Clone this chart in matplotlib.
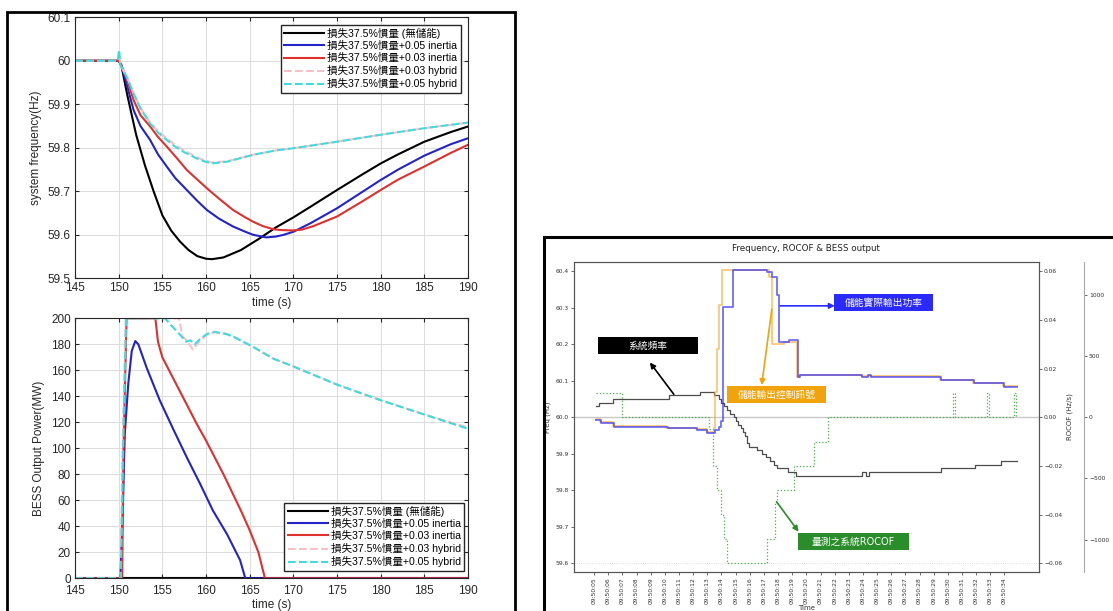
import matplotlib
matplotlib.use('Agg')
import matplotlib.pyplot as plt
from matplotlib.patches import Rectangle
from matplotlib.font_manager import FontProperties

plt.rcParams['font.family'] = ['DejaVu Sans', 'Noto Sans CJK TC']
LEFT_FONT = ['Liberation Sans', 'Noto Sans CJK TC']

# ---- left: simulation results ----
labels = ['損失37.5%慣量 (無儲能)',
          '損失37.5%慣量+0.05 inertia',
          '損失37.5%慣量+0.03 inertia',
          '損失37.5%慣量+0.03 hybrid',
          '損失37.5%慣量+0.05 hybrid']

# system frequency (Hz)
t_black = [145, 150, 150.3, 151, 152, 153, 154, 155, 156, 157, 158, 159, 160, 160.7,
           162, 164, 166, 168, 170, 172, 175, 178, 180, 182, 185, 188, 190]
f_black = [60.0, 60.0, 59.99, 59.92, 59.83, 59.76, 59.70, 59.645, 59.61, 59.585, 59.565,
           59.551, 59.545, 59.544, 59.548, 59.565, 59.59, 59.617, 59.64, 59.665, 59.703,
           59.74, 59.764, 59.785, 59.814, 59.836, 59.849]
t_blue = [145, 150, 150.3, 151, 151.7, 152.5, 153.6, 154.5, 155.5, 156.5, 157.8, 159,
          160.1, 161.5, 163.1, 164.5, 165.4, 166.9, 168, 168.9, 170, 172, 175, 178, 180,
          182, 185, 188, 190]
f_blue = [60.0, 60.0, 59.99, 59.94, 59.887, 59.85, 59.818, 59.785, 59.757, 59.73, 59.703,
          59.678, 59.657, 59.637, 59.619, 59.607, 59.60, 59.594, 59.596, 59.60, 59.607,
          59.627, 59.661, 59.70, 59.726, 59.75, 59.782, 59.808, 59.822]
t_red = [145, 150, 150.3, 151, 151.7, 152.5, 153.6, 154.5, 155.5, 156.5, 157.8, 159, 160.1,
         161.5, 163.1, 164.5, 165.4, 166.5, 167.7, 168.5, 170, 171, 172.3, 175, 178, 180,
         182, 185, 188, 190]
f_red = [60.0, 60.0, 59.99, 59.955, 59.91, 59.875, 59.849, 59.825, 59.803, 59.78, 59.749,
         59.727, 59.707, 59.683, 59.657, 59.64, 59.63, 59.62, 59.613, 59.611, 59.61, 59.612,
         59.62, 59.642, 59.678, 59.703, 59.727, 59.757, 59.788, 59.807]
t_hyb = [145, 149.9, 150.05, 150.2, 151, 151.7, 152.5, 153.6, 154.5, 155.5, 156.5, 157.4,
         158.5, 159.3, 160.65, 162.4, 165.4, 168, 170, 175, 180, 185, 190]
f_cyan = [60.0, 60.0, 60.025, 59.99, 59.96, 59.925, 59.89, 59.856, 59.835, 59.818, 59.802,
          59.791, 59.78, 59.772, 59.764, 59.768, 59.784, 59.794, 59.799, 59.814, 59.83,
          59.845, 59.858]
f_pink = [60.0, 60.0, 60.02, 59.99, 59.96, 59.926, 59.892, 59.858, 59.838, 59.822, 59.806,
          59.795, 59.783, 59.775, 59.766, 59.769, 59.784, 59.794, 59.799, 59.814, 59.83,
          59.845, 59.858]

# BESS output power (MW)
tp_black = [145, 190]
p_black = [0, 0]
tp_blue = [145, 150.2, 150.5, 150.7, 151.1, 151.5, 151.9, 152.25, 153.2, 154.7, 156.3,
           157.8, 159.3, 160.8, 162.4, 163.9, 164.5, 190]
p_blue = [0, 0, 60, 111, 150, 175, 182.5, 180, 162, 137, 114, 93, 73, 52, 34, 14, 0, 0]
tp_red = [145, 150.4, 150.55, 150.9, 154.2, 154.5, 155, 156, 157, 158, 159, 160, 161, 162,
          163, 164, 165, 166, 166.75, 190]
p_red = [0, 0, 100, 200, 200, 182, 170, 157, 144, 131, 118, 106, 93, 80, 66, 52, 37, 20, 0, 0]
tp_cyan = [145, 150.25, 150.5, 150.85, 155.3, 155.7, 156.1, 156.8, 157.2, 157.7, 158.2,
           158.7, 159.3, 160.1, 161.0, 162.3, 163.1, 165.4, 167.7, 170, 175, 180, 185, 190]
p_cyan = [0, 0, 100, 200, 200, 197, 194, 189, 186, 182, 183, 180, 184, 188, 189.5, 188, 186,
          178, 169, 163, 149, 137, 126, 115]
tp_pink = [145, 150.2, 150.45, 150.8, 156.9, 157.3, 157.8, 158.5, 159.2, 160.0, 161.0, 162.3,
           163.1, 165.4, 167.7, 170, 175, 180, 185, 190]
p_pink = [0, 0, 100, 200, 200, 186, 183, 176, 182, 187, 189.5, 188, 186, 178, 169, 163, 149,
          137, 126, 116]

# ---- right: field measurement (seconds after 09:50:00) ----
time_labels = ['09:50:%02d' % s for s in range(5, 35)]
t_freq = [5.1, 5.35, 6.3, 10.3, 12.5, 13.5, 13.8, 14.0, 14.2, 14.4, 14.6, 14.85, 15.05, 15.2,
          15.35, 15.5, 15.65, 15.8, 15.95, 16.5, 16.85, 17.15, 17.4, 17.7, 17.95, 18.7, 19.3,
          23.9, 24.2, 24.4, 29.5, 31.9, 33.75, 34.9]
freq = [60.03, 60.04, 60.05, 60.06, 60.07, 60.06, 60.05, 60.04, 60.03, 60.02, 60.01, 60.00,
        59.99, 59.98, 59.97, 59.96, 59.95, 59.93, 59.92, 59.91, 59.90, 59.89, 59.88, 59.87,
        59.86, 59.85, 59.84, 59.85, 59.84, 59.85, 59.86, 59.87, 59.88, 59.88]
t_out = [5.1, 5.45, 6.4, 10.2, 12.3, 13.0, 13.55, 13.8, 14.0, 14.1, 14.78, 17.25, 17.6, 17.95,
         18.07, 18.8, 19.4, 19.55, 23.95, 24.35, 24.55, 29.55, 31.85, 33.98, 34.92]
p_out = [-22, -49, -77, -90, -104, -131, -104, -77, -30, 905, 1203, 1190, 1148, 1000, 616, 632,
         330, 346, 327, 346, 332, 305, 278, 250, 250]
t_cmd = [5.1, 5.4, 6.35, 10.1, 12.2, 13.0, 13.45, 13.55, 13.7, 13.85, 14.05, 17.35, 17.6,
         18.4, 19.37, 19.5, 23.85, 24.45, 29.45, 31.75, 33.88, 34.92]
p_cmd = [-15, -42, -70, -84, -98, -120, -90, 207, 561, 916, 1203, 1148, 602, 616, 330, 344,
         335, 340, 308, 282, 255, 255]
t_rocof = [5.1, 6.95, 13.15, 13.4, 13.7, 13.95, 14.15, 14.4, 17.25, 17.75, 17.9, 19.1, 20.55,
           21.55, 30.33, 30.5, 32.75, 32.92, 34.68, 34.85, 34.92]
rocof = [0.01, 0.0, -0.005, -0.02, -0.03, -0.04, -0.05, -0.06, -0.05, -0.035, -0.03, -0.02,
         -0.01, 0.0, 0.01, 0.0, 0.01, 0.0, 0.01, 0.0, 0.0]

fig = plt.figure(figsize=(11.13, 6.11), dpi=100)


def matlab_axes(ax):
    ax.tick_params(direction='in', top=True, right=True, length=3, labelsize=8.5,
                   colors='#262626', pad=3)
    for lab in ax.get_xticklabels() + ax.get_yticklabels():
        lab.set_family(LEFT_FONT)
    for s in ax.spines.values():
        s.set_color('#262626')
        s.set_linewidth(0.8)
    ax.grid(True, color='#dcdcdc', lw=0.7)
    ax.set_axisbelow(True)


leg_font = FontProperties(family=LEFT_FONT, size=7.6)
leg_kw = dict(prop=leg_font, handlelength=3.8, fancybox=False, edgecolor='#262626',
              framealpha=1, borderpad=0.3, labelspacing=0.2, handletextpad=0.3)

ax1 = fig.add_axes([0.0674, 0.5445, 0.3531, 0.4272])
ax1.plot(t_black, f_black, color='black', lw=1.5, label=labels[0])
ax1.plot(t_blue, f_blue, color='#2323c8', lw=1.5, label=labels[1])
ax1.plot(t_red, f_red, color='#e0302e', lw=1.5, label=labels[2])
ax1.plot(t_hyb, f_pink, color='#f7bfc8', lw=1.5, ls='--', label=labels[3])
ax1.plot(t_hyb, f_cyan, color='#3fdcdc', lw=1.5, ls='--', label=labels[4])
ax1.set_xlim(145, 190)
ax1.set_ylim(59.5, 60.1)
ax1.set_xticks(range(145, 191, 5))
ax1.set_yticks([59.5, 59.6, 59.7, 59.8, 59.9, 60.0, 60.1])
ax1.set_yticklabels(['59.5', '59.6', '59.7', '59.8', '59.9', '60', '60.1'])
matlab_axes(ax1)
ax1.set_xlabel('time (s)', family=LEFT_FONT, fontsize=8.5, color='#262626', labelpad=2)
ax1.set_ylabel('system frequency(Hz)', family=LEFT_FONT, fontsize=8.5, color='#262626')
ax1.legend(loc='upper right', borderaxespad=0.7, **leg_kw)

ax2 = fig.add_axes([0.0674, 0.0535, 0.3531, 0.4255])
ax2.plot(tp_black, p_black, color='black', lw=1.5, label=labels[0])
ax2.plot(tp_blue, p_blue, color='#2323c8', lw=1.5, label=labels[1])
ax2.plot(tp_red, p_red, color='#e0302e', lw=1.5, label=labels[2])
ax2.plot(tp_pink, p_pink, color='#f7bfc8', lw=1.5, ls='--', label=labels[3])
ax2.plot(tp_cyan, p_cyan, color='#3fdcdc', lw=1.5, ls='--', label=labels[4])
ax2.set_xlim(145, 190)
ax2.set_ylim(0, 200)
ax2.set_xticks(range(145, 191, 5))
ax2.set_yticks(range(0, 201, 20))
matlab_axes(ax2)
ax2.tick_params(axis='x', pad=5)
ax2.set_xlabel('time (s)', family=LEFT_FONT, fontsize=8.5, color='#262626', labelpad=1)
ax2.set_ylabel('BESS Output Power(MW)', family=LEFT_FONT, fontsize=8.5, color='#262626')
ax2.legend(loc='lower right', bbox_to_anchor=(0.99, 0.03), borderaxespad=0, **leg_kw)

# ---- right panel ----
ax3 = fig.add_axes([0.5154, 0.0638, 0.4182, 0.5074])
ax3.axhline(60.0, color='#c8c8c8', lw=1.0)
ax3.axhline(59.6, color='#d5d5d5', lw=0.6, ls=':')
ax3.plot(t_freq, freq, drawstyle='steps-post', color='#4d4d4d', lw=0.9)
ax3.set_xlim(3.55, 36.45)
ax3.set_ylim(59.5766, 60.425)
ax3.set_yticks([59.6, 59.7, 59.8, 59.9, 60.0, 60.1, 60.2, 60.3, 60.4])
ax3.set_yticklabels(['%.1f' % v for v in [59.6, 59.7, 59.8, 59.9, 60.0, 60.1, 60.2, 60.3, 60.4]])
ax3.set_xticks(range(5, 35))
ax3.set_xticklabels(time_labels, rotation=90)
ax3.tick_params(labelsize=4.3, length=2, width=0.5, pad=1.5, colors='#333333')
ax3.set_xlabel('Time', fontsize=5, labelpad=1, color='#333333')
ax3.set_ylabel('Freq (Hz)', fontsize=5, labelpad=3, color='#333333')
ax3.set_title('Frequency, ROCOF & BESS output', fontsize=6.3, pad=8, color='#222222')
for s in ax3.spines.values():
    s.set_color('#555555')
    s.set_linewidth(0.8)

ax4 = ax3.twinx()
ax4.plot(t_rocof, rocof, drawstyle='steps-post', color='#4caf4c', lw=0.9, ls=':')
ax4.set_ylim(-0.0635, 0.0637)
ax4.set_yticks([-0.06, -0.04, -0.02, 0.0, 0.02, 0.04, 0.06])
ax4.set_yticklabels(['\u22120.06', '\u22120.04', '\u22120.02', '0.00', '0.02', '0.04', '0.06'])
ax4.tick_params(labelsize=4.3, length=2, width=0.5, pad=1.5, colors='#333333')
ax4.set_ylabel('ROCOF (Hz/s)', fontsize=5, labelpad=3, color='#333333')
for s in ax4.spines.values():
    s.set_color('#555555')
    s.set_linewidth(0.8)

ax5 = ax3.twinx()
ax5.spines['right'].set_position(('outward', 32.4))
for side in ['top', 'bottom', 'left']:
    ax5.spines[side].set_visible(False)
ax5.spines['right'].set_color('#aaaaaa')
ax5.plot(t_cmd, p_cmd, drawstyle='steps-post', color='#ffa31a', lw=1.3, alpha=0.6)
ax5.plot(t_out, p_out, drawstyle='steps-post', color='#3030ff', lw=1.3, alpha=0.7)
ax5.set_ylim(-1266, 1271)
ax5.set_yticks([-1000, -500, 0, 500, 1000])
ax5.set_yticklabels(['\u22121000', '\u2212500', '0', '500', '1000'])
ax5.tick_params(labelsize=4.3, length=2, width=0.5, pad=1.5, colors='#333333')
ax5.set_ylabel('BESS Power (kW)', fontsize=5, labelpad=3, color='#333333')

# annotation boxes (axes fraction) and arrows (data coordinates)
boxes = [('系統頻率', 'black', 0.0524, 0.2673, 0.7032, 0.7581),
         ('儲能實際輸出功率', '#2a2aff', 0.5600, 0.7720, 0.8419, 0.8968),
         ('儲能輸出控制訊號', '#f0a30a', 0.3298, 0.5428, 0.5442, 0.6000),
         ('量測之系統ROCOF', '#2a8c2a', 0.4815, 0.7211, 0.0710, 0.1268)]
for txt, col, x0, x1, y0, y1 in boxes:
    ax5.add_patch(Rectangle((x0, y0), x1 - x0, y1 - y0, transform=ax3.transAxes,
                            facecolor=col, edgecolor='none', zorder=5, clip_on=False))
    ax5.text((x0 + x1) / 2, (y0 + y1) / 2, txt, transform=ax3.transAxes, color='white',
             fontsize=7, ha='center', va='center', zorder=6)

arrows = [('black', (10.63, 60.063), (8.94, 60.150)),
          ('#2a2aff', (18.15, 60.305), (22.01, 60.305)),
          ('#f0a30a', (17.56, 60.296), (16.84, 60.088)),
          ('#2a8c2a', (17.89, 59.769), (19.45, 59.687))]
for col, tail, head in arrows:
    ax5.annotate('', xy=ax3.transData.transform(head), xytext=ax3.transData.transform(tail),
                 xycoords='figure pixels', textcoords='figure pixels',
                 arrowprops=dict(arrowstyle='-|>', color=col, lw=1.2, mutation_scale=8,
                                 shrinkA=0, shrinkB=0), zorder=6)

# panel frames
fig.add_artist(Rectangle((7 / 1113, -0.05), (515 - 7) / 1113, 1 - 12 / 611 + 0.05,
                         transform=fig.transFigure, fill=False, edgecolor='black', lw=2))
fig.add_artist(Rectangle((543.7 / 1113, -0.05), 0.6, 1 - 236.7 / 611 + 0.05,
                         transform=fig.transFigure, fill=False, edgecolor='black', lw=2.2))

fig.savefig('out.png', dpi=100)
